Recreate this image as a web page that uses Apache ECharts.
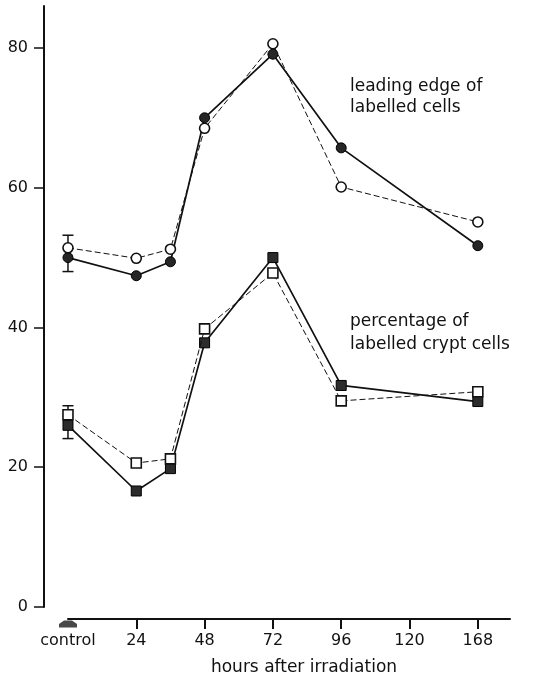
<!DOCTYPE html>
<html>
<head>
<meta charset="utf-8">
<script src="https://cdn.jsdelivr.net/npm/echarts@6/dist/echarts.min.js"></script>
<style>
  html, body { margin: 0; padding: 0; background: #fff; }
  #chart { width: 540px; height: 680px; }
</style>
</head>
<body>
<div id="chart"></div>
<script>
// Axis ticks along the time axis (hours after irradiation)
const tickHours = ['control', 24, 48, 72, 96, 120, 168];
// Sampling times of the measurements
const sampleHours = ['control', 24, 36, 48, 72, 96, 168];

// Leading edge of labelled cells (%)
const leadingEdgeFilled = [50.0, 47.4, 49.4, 70.0, 79.1, 65.7, 51.7];
const leadingEdgeOpen   = [51.4, 49.9, 51.2, 68.5, 80.6, 60.1, 55.1];

// Percentage of labelled crypt cells
const cryptFilled = [26.0, 16.6, 19.8, 37.8, 50.0, 31.7, 29.4];
const cryptOpen   = [27.5, 20.6, 21.2, 39.8, 47.8, 29.5, 30.8];

// Spread of the control values [low, high]
const controlRanges = [[48.0, 53.2], [24.1, 28.8]];

const yTicks = [0, 20, 40, 60, 80];

// The time axis is drawn with evenly spaced ticks; map hours onto tick slots.
function slotOf(h) {
  if (h === 'control') return 0;
  const hrs = tickHours.slice(1);
  for (let i = 0; i < hrs.length - 1; i++) {
    if (h >= hrs[i] && h <= hrs[i + 1]) {
      return 1 + i + (h - hrs[i]) / (hrs[i + 1] - hrs[i]);
    }
  }
  return null;
}
const slots = sampleHours.map(slotOf);
const pairs = vals => vals.map((v, i) => [slots[i], v]);
const tickSlots = tickHours.map((_, i) => i);

const FONT = 'DejaVu Sans';
const X_MAX = 6.471;
const X_MIN_PLOT = -0.351;

const chart = echarts.init(document.getElementById('chart'), null, { renderer: 'canvas' });

chart.setOption({
  backgroundColor: '#fff',
  animation: false,
  grid: [
    { left: 44, right: 30, top: 6, bottom: 73 },
    { left: 68, right: 30, top: 618, height: 1 }
  ],
  xAxis: [
    { gridIndex: 0, type: 'value', min: X_MIN_PLOT, max: X_MAX, show: false },
    {
      gridIndex: 1, type: 'value', min: 0, max: X_MAX,
      axisLine: { show: true, onZero: false, lineStyle: { color: '#111', width: 2 } },
      axisTick: { show: true, length: 10, customValues: tickSlots.slice(1),
                  lineStyle: { color: '#111', width: 2 } },
      axisLabel: {
        customValues: tickSlots, margin: 14,
        fontFamily: FONT, fontSize: 16, color: '#111',
        formatter: v => String(tickHours[Math.round(v)])
      },
      splitLine: { show: false },
      name: 'hours after irradiation',
      nameLocation: 'middle', nameGap: 40,
      nameTextStyle: { fontFamily: FONT, fontSize: 17, color: '#111', padding: [0, 0, 0, 30] }
    }
  ],
  yAxis: [
    {
      gridIndex: 0, type: 'value', min: 0, max: 86,
      axisLine: { show: true, onZero: false, lineStyle: { color: '#111', width: 2 } },
      axisTick: { show: true, length: 10, customValues: yTicks,
                  lineStyle: { color: '#111', width: 1.5 } },
      axisLabel: { customValues: yTicks, margin: 16, fontFamily: FONT, fontSize: 16, color: '#111' },
      splitLine: { show: false }
    },
    { gridIndex: 1, type: 'value', min: 0, max: 1, show: false }
  ],
  graphic: [
    { type: 'text', left: 350, top: 76,
      style: { text: 'leading edge of\nlabelled cells', font: '17px "DejaVu Sans"', fill: '#111', lineHeight: 21 } },
    { type: 'text', left: 350, top: 310,
      style: { text: 'percentage of\nlabelled crypt cells', font: '17px "DejaVu Sans"', fill: '#111', lineHeight: 23 } }
  ],
  series: [
    {
      type: 'custom', xAxisIndex: 0, yAxisIndex: 0, z: 1, silent: true,
      data: controlRanges.map(r => [slotOf('control'), r[0], r[1]]),
      renderItem(params, api) {
        const x = api.value(0);
        const top = api.coord([x, api.value(2)]);
        const bot = api.coord([x, api.value(1)]);
        const w = 5.5;
        const st = { stroke: '#111', lineWidth: 1.5 };
        return {
          type: 'group',
          children: [
            { type: 'line', shape: { x1: top[0], y1: top[1], x2: bot[0], y2: bot[1] }, style: st },
            { type: 'line', shape: { x1: top[0] - w, y1: top[1], x2: top[0] + w, y2: top[1] }, style: st },
            { type: 'line', shape: { x1: bot[0] - w, y1: bot[1], x2: bot[0] + w, y2: bot[1] }, style: st }
          ]
        };
      }
    },
    {
      name: 'leading edge (filled)', type: 'line', xAxisIndex: 0, yAxisIndex: 0, z: 3,
      data: pairs(leadingEdgeFilled),
      symbol: 'circle', symbolSize: 10,
      itemStyle: { color: '#262626', borderColor: '#000', borderWidth: 1 },
      lineStyle: { color: '#111', width: 1.7 }
    },
    {
      name: 'leading edge (open)', type: 'line', xAxisIndex: 0, yAxisIndex: 0, z: 4,
      data: pairs(leadingEdgeOpen),
      symbol: 'circle', symbolSize: 10,
      itemStyle: { color: '#fff', borderColor: '#111', borderWidth: 1.6 },
      lineStyle: { color: '#111', width: 1, type: [6, 3] }
    },
    {
      name: 'crypt cells (filled)', type: 'line', xAxisIndex: 0, yAxisIndex: 0, z: 3,
      data: pairs(cryptFilled),
      symbol: 'rect', symbolSize: 10,
      itemStyle: { color: '#2c2c2c', borderColor: '#000', borderWidth: 1 },
      lineStyle: { color: '#111', width: 1.7 }
    },
    {
      name: 'crypt cells (open)', type: 'line', xAxisIndex: 0, yAxisIndex: 0, z: 4,
      data: pairs(cryptOpen),
      symbol: 'rect', symbolSize: 10,
      itemStyle: { color: '#fff', borderColor: '#111', borderWidth: 1.6 },
      lineStyle: { color: '#111', width: 1, type: [6, 3] }
    },
    {
      // marker under the control position of the time axis
      type: 'scatter', xAxisIndex: 1, yAxisIndex: 1, silent: true, z: 5,
      data: [[slotOf('control'), 0]],
      symbol: 'path://M5,0 L13,0 L18,4 L18,8 L0,8 L0,4 Z',
      symbolSize: [18, 7], symbolOffset: [0, 5], symbolKeepAspect: false,
      itemStyle: { color: '#1a1a1a' }
    }
  ]
});
</script>
</body>
</html>
